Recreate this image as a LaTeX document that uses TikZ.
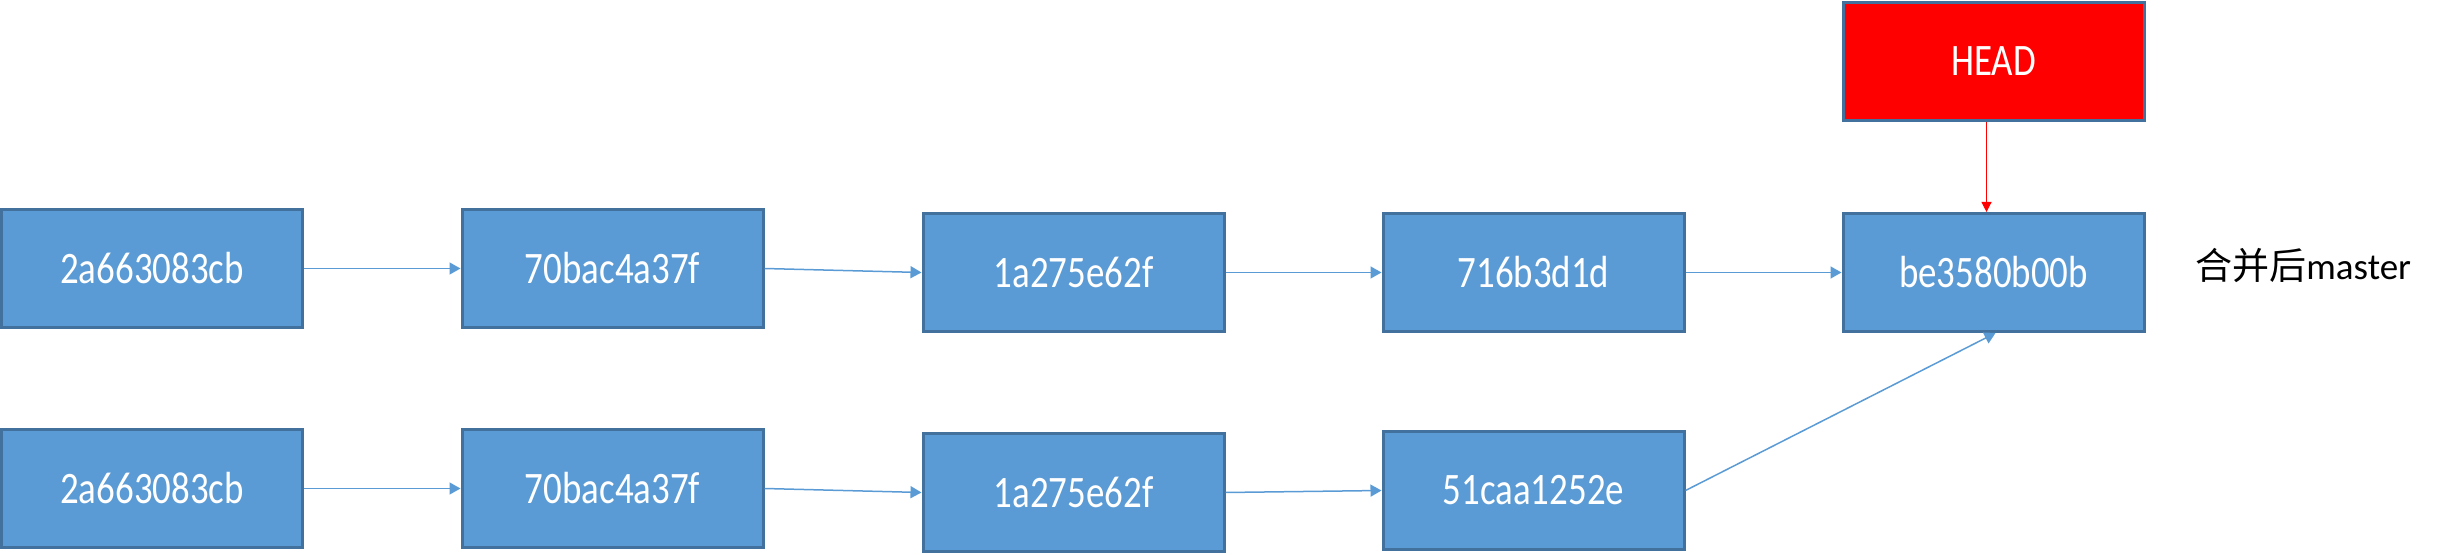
\documentclass[tikz,border=0pt]{standalone}
\usepackage{fontspec}
\setmainfont{Carlito}
\newfontfamily\boxfont{Carlito}[FakeStretch=0.82]
\newfontfamily\cjkfont{Noto Sans CJK SC}
\usetikzlibrary{arrows.meta}
\definecolor{boxblue}{HTML}{5B9BD5}
\definecolor{boxedge}{HTML}{41719C}
\definecolor{headred}{HTML}{FF0000}
\tikzset{
  commit/.style={draw=boxedge, line width=1.5pt, fill=boxblue, text=white,
    minimum width=150.5pt, minimum height=59pt, inner sep=0pt,
    font=\boxfont\fontsize{22.5}{27}\selectfont},
  headbox/.style={commit, fill=headred},
  link/.style={draw=boxblue, line width=0.75pt,
    -{Triangle[length=5.5pt,width=6pt]}},
  headlink/.style={draw=headred, line width=0.5pt,
    -{Triangle[length=5pt,width=5pt]}},
  note/.style={inner sep=0pt, anchor=base west,
    font=\fontsize{18.5}{22}\selectfont}
}
\begin{document}
\begin{tikzpicture}[x=0.5pt,y=-0.5pt]
\useasboundingbox (0,0) rectangle (2437,555);
% top row
\node[commit] (a1) at (152,268.5) {2a663083cb};
\node[commit] (a2) at (612.5,268.5) {70bac4a37f};
\node[commit] (a3) at (1073.5,272.5) {1a275e62f};
\node[commit] (a4) at (1533.5,272.5) {716b3d1d};
\node[commit] (a5) at (1993.5,272.5) {be3580b00b};
\node[headbox] (head) at (1993.5,61.5) {HEAD};
\node[note] (lbl) at (2195,280) {{\cjkfont 合并后}master};
% bottom row
\node[commit] (b1) at (152,488.5) {2a663083cb};
\node[commit] (b2) at (612.5,488.5) {70bac4a37f};
\node[commit] (b3) at (1073.5,492.5) {1a275e62f};
\node[commit] (b4) at (1533.5,490.5) {51caa1252e};
% connectors
\draw[link] (a1.east) -- (a2.west);
\draw[link] (a2.east) -- (a3.west);
\draw[link] (a3.east) -- (a4.west);
\draw[link] (a4.east) -- (a5.west);
\draw[link] (b1.east) -- (b2.west);
\draw[link] (b2.east) -- (b3.west);
\draw[link] (b3.east) -- (b4.west);
\draw[link] (b4.east) -- ([xshift=1pt]a5.south);
\draw[headlink] ([xshift=-3.5pt]head.south) -- ([xshift=-3.5pt]a5.north);
\end{tikzpicture}
\end{document}
